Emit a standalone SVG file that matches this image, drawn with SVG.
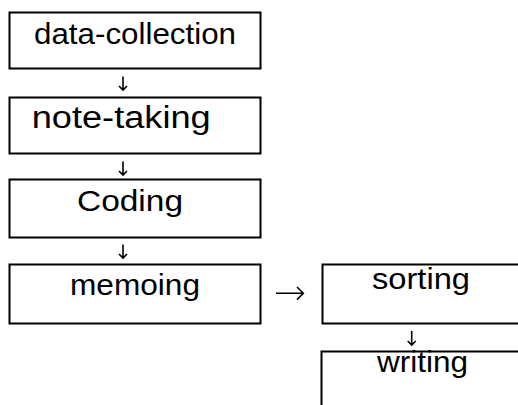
<svg xmlns="http://www.w3.org/2000/svg" width="518" height="405" viewBox="0 0 518 405">
<style>
.box{fill:#fff;stroke:#000;stroke-width:2}
.t{font-family:"Liberation Sans",Arial,sans-serif;font-size:29px;fill:#000}
.c{fill:none;stroke:#000;stroke-width:1.6}
</style>
<rect width="518" height="405" fill="#fff"/>
<g id="data-collection"><rect class="box" x="9.5" y="12.5" width="251" height="56"/><text class="t" x="34" y="43.5" textLength="202" lengthAdjust="spacingAndGlyphs">data-collection</text></g>
<g id="note-taking"><rect class="box" x="9.5" y="97.5" width="251" height="56"/><text class="t" x="31.7" y="127.5" textLength="179" lengthAdjust="spacingAndGlyphs" style="font-size:31px">note-taking</text></g>
<g id="coding"><rect class="box" x="9.5" y="179.5" width="251" height="58"/><text class="t" x="77" y="211" textLength="106" lengthAdjust="spacingAndGlyphs" style="font-size:30px">Coding</text></g>
<g id="memoing"><rect class="box" x="9.5" y="264.5" width="251" height="59"/><text class="t" x="70" y="295" textLength="130" lengthAdjust="spacingAndGlyphs" style="font-size:30px">memoing</text></g>
<g id="sorting"><rect class="box" x="322.5" y="264.5" width="210" height="59"/><text class="t" x="372" y="288.5" textLength="98" lengthAdjust="spacingAndGlyphs">sorting</text></g>
<g id="writing"><rect class="box" x="321.5" y="351.5" width="210" height="70"/><text class="t" x="377" y="372" textLength="91" lengthAdjust="spacingAndGlyphs">writing</text></g>
<g id="connectors">
<path class="c" d="M123 76.5V90M119 86L123 90L127 86"/>
<path class="c" d="M123 161.5V175M119 171L123 175L127 171"/>
<path class="c" d="M123 244.5V258M119 254L123 258L127 254"/>
<path class="c" d="M276 293.3H303.3M297 287L303.3 293.3L297 299.6"/>
<path class="c" d="M411.7 331V345M407.7 341L411.7 345L415.7 341"/>
</g>
</svg>
